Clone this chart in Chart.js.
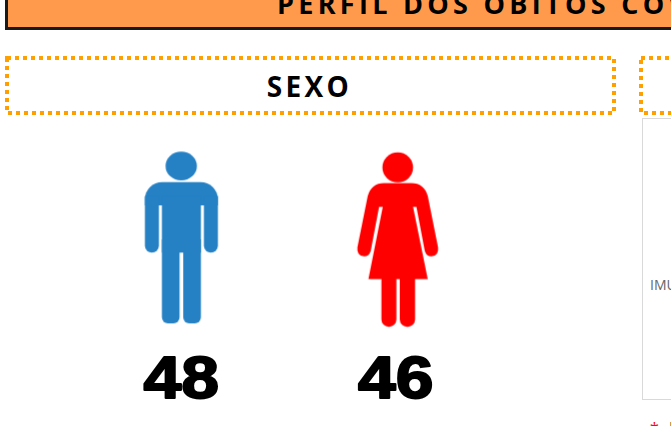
<!DOCTYPE html>
<html lang="pt">
<head>
<meta charset="utf-8">
<title>Perfil dos óbitos - sexo</title>
<script src="https://cdn.jsdelivr.net/npm/chart.js@4"></script>
<style>
    html, body { margin: 0; padding: 0; background: #fff; }
    #page { position: relative; width: 671px; height: 426px; overflow: hidden; font-family: "Open Sans", sans-serif; }
    #page > * { position: absolute; }
    #banner { left: 5px; top: -10px; width: 800px; height: 34px; background: #ff9a4d; border: 3px solid #1a1a1a; }
    #bannerText { left: 277px; top: -15px; font-size: 27px; font-weight: 700; letter-spacing: 4.3px; white-space: nowrap; color: #000; }
    #boxes { left: 0; top: 0; }
    #sexoTitle { left: 4px; width: 611px; top: 68px; text-align: center; font-size: 28px; line-height: 36px; font-weight: 700; letter-spacing: 3.3px; color: #000; }
    #panel { left: 642px; top: 118px; width: 100px; height: 280px; border: 1px solid #d9d9d9; }
    #panelText { left: 650px; top: 275px; font-size: 14px; color: #666; white-space: nowrap; }
    #note { left: 650px; top: 417px; font-size: 16px; color: #f00; white-space: nowrap; }
    #note span { color: #222; margin-left: 6px; }
    #chartSexo { left: 0; top: 0; }
</style>
</head>
<body>
<div id="page">
    <div id="banner"></div>
    <div id="bannerText">PERFIL DOS ÓBITOS COVID-19</div>
    <svg id="boxes" width="671" height="426">
        <rect x="7" y="58" width="607" height="55" fill="none" stroke="#ffa000" stroke-width="4" stroke-dasharray="4 4"/>
        <rect x="641" y="58" width="100" height="55" fill="none" stroke="#ffa000" stroke-width="4" stroke-dasharray="4 4"/>
    </svg>
    <div id="sexoTitle">SEXO</div>
    <div id="panel"></div>
    <div id="panelText">IMUNOSSUPRESSÃO</div>
    <div id="note">* <span>D</span></div>
    <canvas id="chartSexo" width="671" height="426"></canvas>
</div>
<script>
const categorias = ['Masculino', 'Feminino'];
const obitos = [48, 46];
const cores = ['#2581c4', '#ff0000'];

// Desenha o boneco num canvas proprio, coordenadas lidas a 3x
function novoIcone(w, h, cx, cy, cor, desenho) {
    const c = document.createElement('canvas');
    c.width = w;
    c.height = h;
    const ctx = c.getContext('2d');
    ctx.translate(w / 2, h / 2);
    ctx.scale(1 / 3, 1 / 3);
    ctx.translate(-cx, -cy);
    ctx.fillStyle = cor;
    desenho(ctx);
    return c;
}

function rr(ctx, x, y, w, h, r) {
    ctx.beginPath();
    ctx.roundRect(x, y, w, h, r);
    ctx.fill();
}

function iconeHomem(cor) {
    return novoIcone(100, 190, 182, 294, cor, ctx => {
        ctx.beginPath();
        ctx.ellipse(182, 80, 47, 43, 0, 0, Math.PI * 2);
        ctx.fill();
        rr(ctx, 73, 128, 219, 70, [52, 52, 0, 0]);
        rr(ctx, 73, 170, 42, 170, [0, 0, 21, 21]);
        rr(ctx, 250, 170, 42, 170, [0, 0, 21, 21]);
        rr(ctx, 124, 170, 117, 170, 0);
        rr(ctx, 124, 300, 53, 252, [0, 0, 18, 18]);
        rr(ctx, 188, 300, 53, 252, [0, 0, 18, 18]);
    });
}

function iconeMulher(cor) {
    return novoIcone(100, 190, 172, 301.5, cor, ctx => {
        ctx.beginPath();
        ctx.ellipse(172, 85, 46, 45, 0, 0, Math.PI * 2);
        ctx.fill();
        // ombros e bracos
        ctx.beginPath();
        ctx.moveTo(130, 132);
        ctx.lineTo(214, 132);
        ctx.quadraticCurveTo(250, 132, 262, 170);
        ctx.lineTo(293, 325);
        ctx.quadraticCurveTo(296, 350, 273, 352);
        ctx.quadraticCurveTo(258, 352, 253, 335);
        ctx.lineTo(228, 203);
        ctx.lineTo(116, 203);
        ctx.lineTo(91, 335);
        ctx.quadraticCurveTo(86, 352, 71, 352);
        ctx.quadraticCurveTo(48, 350, 51, 325);
        ctx.lineTo(82, 170);
        ctx.quadraticCurveTo(94, 132, 130, 132);
        ctx.fill();
        // vestido
        ctx.beginPath();
        ctx.moveTo(127, 180);
        ctx.lineTo(218, 180);
        ctx.lineTo(218, 203);
        ctx.lineTo(262, 420);
        ctx.lineTo(84, 420);
        ctx.lineTo(127, 203);
        ctx.fill();
        rr(ctx, 123, 400, 45, 163, [0, 0, 22, 22]);
        rr(ctx, 178, 400, 46, 163, [0, 0, 22, 22]);
    });
}

const icones = [iconeHomem(cores[0]), iconeMulher(cores[1])];

// Numero grande por baixo de cada boneco
const numerosPlugin = {
    id: 'numeros',
    afterDatasetsDraw(chart) {
        const { ctx } = chart;
        const meta = chart.getDatasetMeta(0);
        const ajuste = [0, -2];
        ctx.save();
        ctx.font = 'bold 60px "Liberation Sans", Arial, sans-serif';
        ctx.textAlign = 'center';
        ctx.textBaseline = 'alphabetic';
        ctx.fillStyle = '#000';
        ctx.strokeStyle = '#000';
        ctx.lineWidth = 2;
        ctx.lineJoin = 'round';
        meta.data.forEach((pt, i) => {
            ctx.save();
            ctx.translate(pt.x + ajuste[i], 398);
            ctx.scale(1.13, 1);
            ctx.strokeText(String(obitos[i]), 0, 0);
            ctx.fillText(String(obitos[i]), 0, 0);
            ctx.restore();
        });
        ctx.restore();
    }
};

new Chart(document.getElementById('chartSexo'), {
    type: 'line',
    data: {
        labels: categorias,
        datasets: [{
            label: 'Óbitos',
            data: obitos,
            showLine: false,
            pointStyle: icones,
            pointRadius: 20,
            pointHoverRadius: 20,
            clip: false
        }]
    },
    options: {
        responsive: false,
        animation: false,
        layout: { padding: { left: 73, right: 165, top: 0, bottom: 0 } },
        scales: {
            x: { display: false, offset: true },
            y: { display: false, min: -100.8, max: 240 }
        },
        plugins: { legend: { display: false }, tooltip: { enabled: false } }
    },
    plugins: [numerosPlugin]
});
</script>
</body>
</html>
